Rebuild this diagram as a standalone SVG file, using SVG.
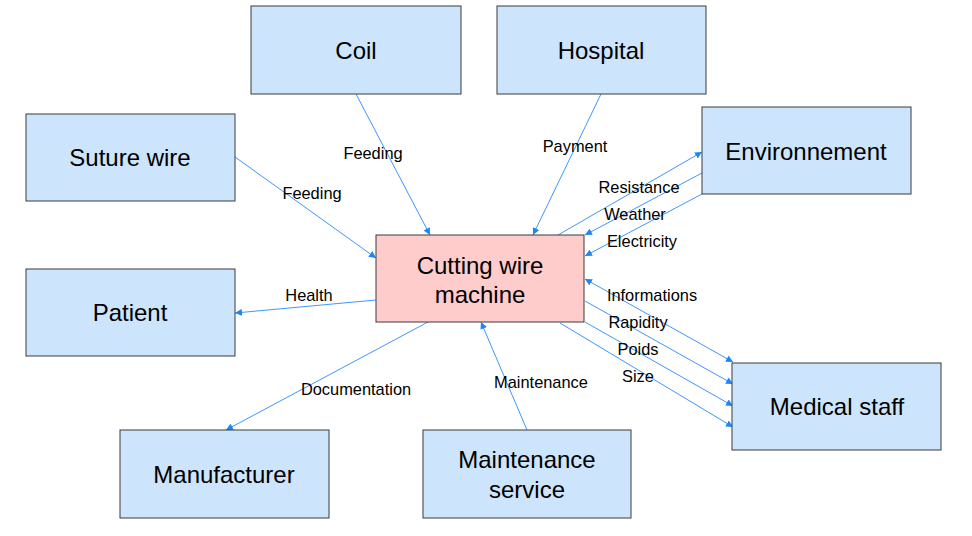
<svg xmlns="http://www.w3.org/2000/svg" width="972" height="536" viewBox="0 0 972 536">
<style>
.n{fill:#cce4fc;stroke:#3a3a3a;stroke-width:1}
.m{fill:#ffcccc;stroke:#3a3a3a;stroke-width:1}
.t{font-family:"Liberation Sans",Arial,sans-serif;font-size:24px;fill:#000;text-anchor:middle}
.l{font-family:"Liberation Sans",Arial,sans-serif;font-size:16.4px;fill:#000;text-anchor:middle}
.c{stroke:#3d97ff;stroke-width:1;fill:none;marker-end:url(#a)}
.b{marker-start:url(#s)}
</style>
<defs>
<marker id="a" viewBox="0 0 10 10" refX="10" refY="5" markerWidth="7" markerHeight="7" markerUnits="userSpaceOnUse" orient="auto"><path d="M0,0L10,5L0,10z" fill="#1f85f5"/></marker>
<marker id="s" viewBox="0 0 10 10" refX="0" refY="5" markerWidth="7" markerHeight="7" markerUnits="userSpaceOnUse" orient="auto"><path d="M10,0L0,5L10,10z" fill="#1f85f5"/></marker>
</defs>
<g id="connectors">
<line class="c" x1="356" y1="94" x2="430" y2="235"/>
<line class="c" x1="601" y1="94" x2="533" y2="235"/>
<line class="c" x1="235" y1="157" x2="376" y2="258"/>
<line class="c" x1="558" y1="235" x2="702" y2="152"/>
<line class="c" x1="702" y1="173" x2="585" y2="235"/>
<line class="c" x1="702" y1="194" x2="585" y2="256"/>
<line class="c b" x1="585" y1="279" x2="733" y2="362"/>
<line class="c" x1="585" y1="301" x2="733" y2="384"/>
<line class="c" x1="585" y1="322" x2="733" y2="406"/>
<line class="c" x1="560" y1="323" x2="733" y2="427"/>
<line class="c" x1="376" y1="300" x2="235" y2="313"/>
<line class="c" x1="428" y1="322" x2="226" y2="430"/>
<line class="c" x1="527" y1="430" x2="481" y2="322"/>
<g id="labels">
<text class="l" x="373" y="159">Feeding</text>
<text class="l" x="575" y="152">Payment</text>
<text class="l" x="312" y="199">Feeding</text>
<text class="l" x="639" y="193">Resistance</text>
<text class="l" x="635" y="220">Weather</text>
<text class="l" x="642" y="247">Electricity</text>
<text class="l" x="652" y="301">Informations</text>
<text class="l" x="638" y="328">Rapidity</text>
<text class="l" x="638" y="355">Poids</text>
<text class="l" x="638" y="382">Size</text>
<text class="l" x="309" y="301">Health</text>
<text class="l" x="356" y="395">Documentation</text>
<text class="l" x="541" y="388">Maintenance</text>
</g>
</g>
<g id="coil"><rect class="n" x="251" y="6" width="210" height="88"/><text class="t" x="356" y="59">Coil</text></g>
<g id="hospital"><rect class="n" x="497" y="6" width="209" height="88"/><text class="t" x="601" y="59">Hospital</text></g>
<g id="suture"><rect class="n" x="26" y="114" width="209" height="87"/><text class="t" x="130" y="166">Suture wire</text></g>
<g id="environnement"><rect class="n" x="702" y="107" width="209" height="87"/><text class="t" x="806" y="160">Environnement</text></g>
<g id="machine"><rect class="m" x="376" y="235" width="208" height="87"/><text class="t" x="480" y="274">Cutting wire</text><text class="t" x="480" y="303">machine</text></g>
<g id="patient"><rect class="n" x="26" y="269" width="209" height="87"/><text class="t" x="130" y="321">Patient</text></g>
<g id="medical"><rect class="n" x="732" y="363" width="209" height="87"/><text class="t" x="837" y="415">Medical staff</text></g>
<g id="manufacturer"><rect class="n" x="120" y="430" width="209" height="88"/><text class="t" x="224" y="483">Manufacturer</text></g>
<g id="maintenance"><rect class="n" x="423" y="430" width="208" height="88"/><text class="t" x="527" y="468">Maintenance</text><text class="t" x="527" y="498">service</text></g>
</svg>
